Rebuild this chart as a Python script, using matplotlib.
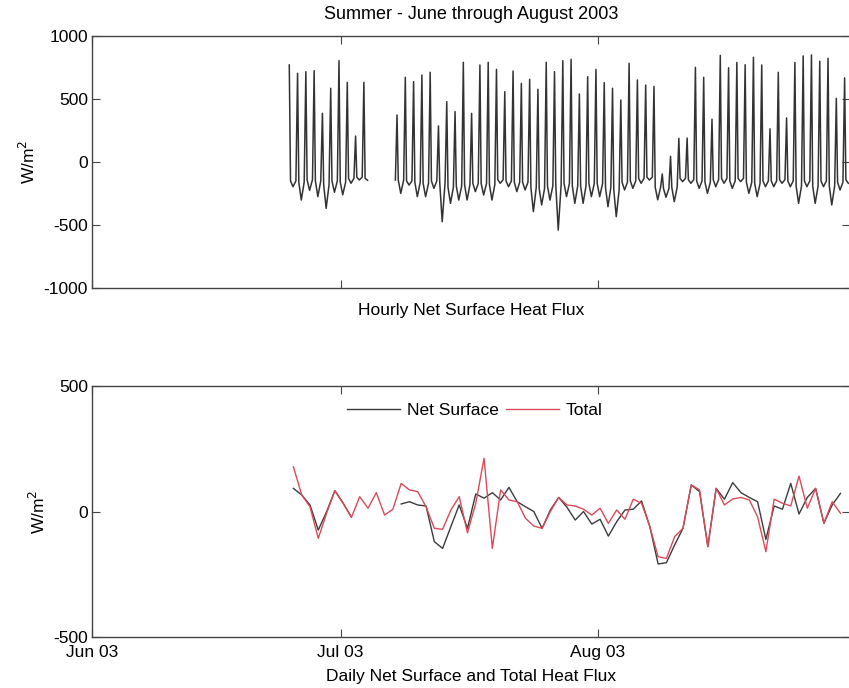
import numpy as np
import matplotlib
matplotlib.use('Agg')
import matplotlib.pyplot as plt
import matplotlib.dates as mdates

plt.rcParams['font.family'] = ['Liberation Sans', 'DejaVu Sans']
plt.rcParams['axes.unicode_minus'] = False

# ---------------- hourly net surface heat flux (read per day from the picture) ----------------
# day index = days after 2003-06-01
seg1_days = list(range(23, 33))
seg1_peak = [770, 704, 717, 725, 386, 585, 804, 632, 206, 632]
seg1_night = [-196, -302, -225, -275, -368, -240, -260, -169, -143, -145]
seg1_base = [-150, -160, -140, -150, -180, -150, -160, -130, -120, -130]

seg2_days = list(range(36, 91))
seg2_peak = [373, 672, 638, 690, 712, 286, 479, 400, 791, 386,
             770, 791, 735, 558, 722, 624, 656, 577, 791, 717,
             804, 815, 540, 677, 735, 630, 585, 492, 783, 651,
             611, 600, -95, 45, 188, 190, 751, 672, 339, 846,
             748, 790, 772, 831, 770, 263, 712, 350, 790, 842,
             850, 800, 823, 505, 668]
seg2_night = [-249, -183, -275, -275, -209, -474, -328, -302, -302, -235,
              -262, -302, -169, -196, -235, -222, -394, -341, -302, -540,
              -275, -328, -328, -275, -275, -355, -434, -222, -209, -169,
              -143, -300, -280, -315, -156, -169, -209, -249, -196, -169,
              -209, -156, -249, -275, -196, -196, -169, -196, -328, -196,
              -328, -196, -341, -222, -169]
seg2_base = [-143, -150, -160, -170, -150, -160, -200, -190, -180, -170,
             -170, -180, -140, -150, -160, -160, -200, -210, -190, -180,
             -170, -190, -190, -170, -170, -200, -220, -160, -150, -130,
             -120, -200, -210, -200, -130, -140, -150, -160, -140, -130,
             -150, -130, -160, -170, -150, -150, -140, -150, -190, -150,
             -190, -150, -190, -160, -140]

# ---------------- daily values ----------------
daily_days = list(range(24, 91))
total_flux = [178, 66, 19, -107, -7, 83, 33, -23, 59, 13,
              75, -14, 9, 112, 86, 79, 19, -67, -71, 6,
              59, -85, 33, 212, -147, 86, 46, 39, -27, -58,
              -67, 0, 56, 26, 22, 9, -14, 13, -47, 6,
              -31, 49, 33, -60, -180, -187, -100, -67, 106, 86,
              -140, 92, 26, 50, 56, 46, -21, -160, 49, 33,
              22, 141, 13, 92, -47, 39, -7]
net_surface = [92, 66, 26, -74, -1, 83, 33, -23, np.nan, np.nan,
               np.nan, np.nan, np.nan, 30, 39, 26, 22, -120, -147, -60,
               26, -67, 70, 53, 75, 46, 96, 39, 19, 0,
               -67, 6, 56, 17, -34, 0, -50, -31, -98, -41,
               6, 9, 42, -60, -209, -204, -133, -67, 106, 79,
               -140, 92, 49, 115, 75, 56, 39, -111, 22, 9,
               112, -10, 56, 92, -47, 26, 72]

t0 = np.datetime64('2003-06-01T00:00')


def to_dates(days):
    return t0 + (np.asarray(days, dtype=float) * 1440).round().astype('timedelta64[m]')


def build(days, peak, night, base, start_with_dawn):
    t, v = [], []
    for k, d in enumerate(days):
        if k > 0 or start_with_dawn:
            t.append(d + 0.6)
            v.append(base[k - 1] if k > 0 else base[k])
        t += [d + 0.8, d + 0.95, d + 1.25]
        v += [peak[k], base[k], night[k]]
    return t, v


t1, v1 = build(seg1_days, seg1_peak, seg1_night, seg1_base, False)
t2, v2 = build(seg2_days, seg2_peak, seg2_night, seg2_base, True)
hour_t = t1 + [t1[-1] + 0.1] + t2
hour_v = v1 + [np.nan] + v2

fig = plt.figure(figsize=(8.49, 6.88), dpi=100)
W, H = 849.0, 688.0
left, right = 92, 850
ax1 = fig.add_axes([left / W, 1 - 288 / H, (right - left) / W, (288 - 36) / H])
ax2 = fig.add_axes([left / W, 1 - 637 / H, (right - left) / W, (637 - 386) / H])

xlim = (to_dates([0])[0], to_dates([91.45])[0])
fs = 12.5
spine_c = '#444444'

ax1.plot(to_dates(hour_t), hour_v, color='#333333', lw=1.1)
ax1.set_ylim(-1000, 1000)
ax1.set_yticks([-1000, -500, 0, 500, 1000])
ax1.set_title('Summer - June through August 2003', fontsize=13, pad=12)
ax1.set_xlabel('Hourly Net Surface Heat Flux', fontsize=fs, labelpad=11)
ax1.set_ylabel('W/m$^2$', fontsize=fs, labelpad=4)

dd = to_dates(np.array(daily_days) + 0.3)
ax2.plot(dd, net_surface, color='#3c3c3c', lw=1.0, label='Net Surface')
ax2.plot(dd, total_flux, color='#dc4a58', lw=1.0, label='Total')
ax2.set_ylim(-500, 500)
ax2.set_yticks([-500, 0, 500])
ax2.set_xlabel('Daily Net Surface and Total Heat Flux', fontsize=fs, labelpad=6)
ax2.set_ylabel('W/m$^2$', fontsize=fs, labelpad=4)
leg = ax2.legend(loc='upper center', ncol=2, frameon=False, fontsize=fs,
                 handlelength=3.05, columnspacing=0.45, handletextpad=0.35,
                 bbox_to_anchor=(0.505, 1.0), borderaxespad=0.55)

for ax in (ax1, ax2):
    ax.set_xlim(*xlim)
    ax.xaxis.set_major_locator(mdates.MonthLocator())
    ax.xaxis.set_major_formatter(mdates.DateFormatter('%b %y'))
    ax.tick_params(direction='in', length=6, width=0.8, color=spine_c,
                   top=True, right=True, labelsize=fs, pad=3)
    for s in ax.spines.values():
        s.set_color(spine_c)
        s.set_linewidth(1.0)
ax1.tick_params(labelbottom=False)
ax2.tick_params(axis='x', pad=6)

fig.savefig('out.png', dpi=100)
